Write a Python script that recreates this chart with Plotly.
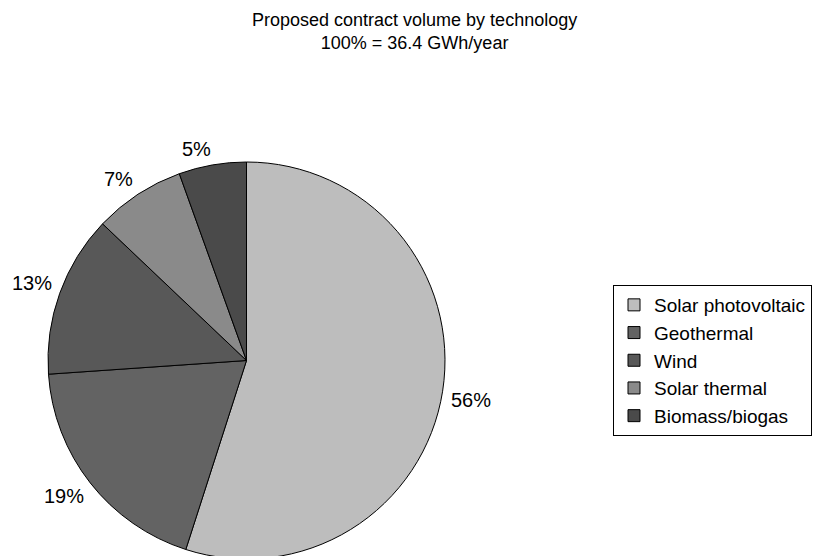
import math
import plotly.graph_objects as go

categories = ["Solar photovoltaic", "Geothermal", "Wind", "Solar thermal", "Biomass/biogas"]
values_gwh = [20.0, 6.9, 4.8, 2.7, 2.0]          # total 36.4 GWh/year
pct_labels = ["56%", "19%", "13%", "7%", "5%"]    # data labels as printed on the chart
colors = ["#bdbdbd", "#636363", "#585858", "#8a8a8a", "#4a4a4a"]
title_lines = ["Proposed contract volume by technology", "100% = 36.4 GWh/year"]

W, H = 822, 556
OFF = 8  # page body margin of the browser
# pie placement in screenshot pixels
left, right, top = 48, 445, 162
R = (right - left) / 2
cx = (left + right) / 2 - OFF
cy = top + R - OFF

FONT = "Arial, Liberation Sans, sans-serif"
LABEL_SIZE = 20

fig = go.Figure()
fig.add_trace(go.Pie(
    labels=categories,
    values=values_gwh,
    sort=False,
    direction="clockwise",
    rotation=0,
    textinfo="none",
    hoverinfo="label+value+percent",
    marker=dict(colors=colors, line=dict(color="black", width=1)),
    domain=dict(x=[(cx - R) / W, (cx + R) / W],
                y=[(H - (cy + R)) / H, (H - (cy - R)) / H]),
))

# data labels placed just outside each slice (label box corner nearest the pie)
total = sum(values_gwh)
cum = 0
anns = []
D = R + 9.5
for v, txt in zip(values_gwh, pct_labels):
    mid = (cum + v / 2) / total * 2 * math.pi
    cum += v
    s, c = math.sin(mid), math.cos(mid)
    hw = 4.5 * len(txt) + 5.5
    hh = 7
    px = cx + D * s + (hw if s >= 0 else -hw)
    py = cy - D * c - (hh if c >= 0 else -hh)
    anns.append(dict(x=px / W, y=(H - py) / H, xref="paper", yref="paper",
                     text=txt, showarrow=False,
                     font=dict(family=FONT, size=LABEL_SIZE, color="black"),
                     xanchor="center", yanchor="middle"))

anns.append(dict(x=(414 - OFF) / W, y=(H - (31.5 - OFF)) / H, xref="paper", yref="paper",
                 text="<br>".join(title_lines), showarrow=False,
                 font=dict(family=FONT, size=18, color="black"),
                 xanchor="center", yanchor="middle", align="center"))

fig.update_layout(
    width=W, height=H,
    margin=dict(l=0, r=0, t=0, b=0),
    paper_bgcolor="white", plot_bgcolor="white",
    annotations=anns,
    showlegend=True,
    legend=dict(x=(613 - OFF) / W, y=(H - (285 - OFF)) / H, xanchor="left", yanchor="top",
                bordercolor="black", borderwidth=1, bgcolor="white",
                font=dict(family=FONT, size=19, color="black"),
                itemwidth=30, tracegroupgap=0),
)

fig.write_html("out.html")
